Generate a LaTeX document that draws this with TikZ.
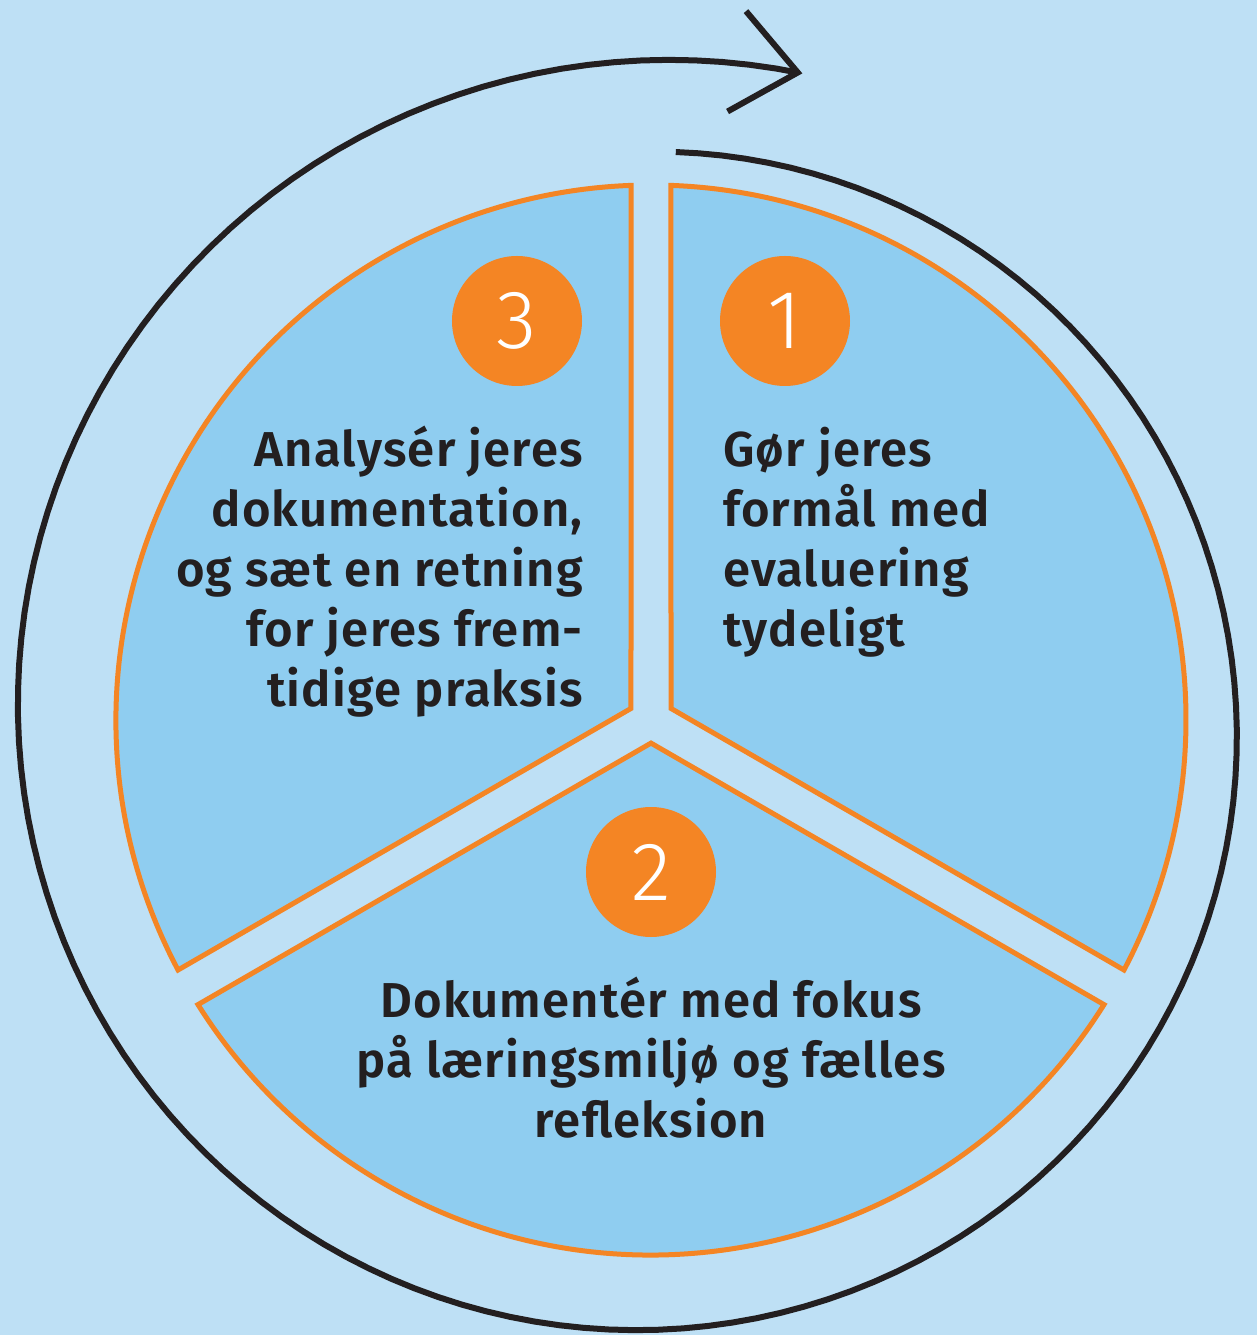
\documentclass[tikz,border=0pt]{standalone}
\usepackage{fontspec}
\setmainfont{Fira Sans}[BoldFont={Fira Sans SemiBold}]
\newfontfamily\numfont{Fira Sans Light}
\usetikzlibrary{arrows.meta}
\definecolor{skyback}{HTML}{BEE0F5}
\definecolor{skyfill}{HTML}{8FCDF0}
\definecolor{steporange}{HTML}{F48524}
\definecolor{inkblack}{HTML}{231F20}
\tikzstyle{sector}=[draw=steporange,fill=skyfill,line width=5pt]
\tikzstyle{stepnum}=[circle,fill=steporange,minimum size=130pt,inner sep=0pt,text=white,font=\numfont\fontsize{83}{83}\selectfont]
\tikzstyle{steptxt}=[inner sep=0pt,text=inkblack,font=\addfontfeatures{LetterSpace=2.5}\bfseries\fontsize{49}{60}\selectfont]
\tikzstyle{spiral}=[draw=inkblack,line width=6pt]

\begin{document}
\begin{tikzpicture}[x=1pt,y=1pt,declare function={spr(\s)=558+0.285*\s+11*max(0,1-\s/90)^2;}]
    \useasboundingbox (-651,-615) rectangle (606,720);
    \fill[skyback] (-651,-615) rectangle (606,720);

    % three sectors with a gap between them
    \foreach \m in {30,150,270}
    \draw[sector] (\m:23.1) -- (\m+57.86:535) arc[start angle=\m+57.86,end angle=\m-57.86,radius=535pt] -- cycle;

    % the cycle arrow round the pie
    \draw[spiral,-{Straight Barb[length=62pt,width=102pt]}] plot[domain=2.3:373,samples=160,variable=\s]
        ({2+spr(\s)*cos(90-\s)},{-0.65+spr(\s)*sin(90-\s)});

    \node[stepnum] (n1) at (134,399)  {1};
    \node[stepnum] (n2) at (0,-152)   {2};
    \node[stepnum] (n3) at (-134,399) {3};

    \node[steptxt,anchor=base west] (t1) at (72,253)
        {\parbox[t]{400pt}{\raggedright Gør jeres\\formål med\\evaluering\\tydeligt}};
    \node[steptxt,anchor=base] (t2) at (0,-297)
        {\parbox[t]{700pt}{\centering Dokumentér med fokus\\på læringsmiljø og fælles\\refleksion}};
    \node[steptxt,anchor=base east] (t3) at (-68,253)
        {\parbox[t]{500pt}{\raggedleft Analysér jeres\\dokumentation,\\og sæt en retning\\for jeres frem-\\tidige praksis}};
\end{tikzpicture}
\end{document}
